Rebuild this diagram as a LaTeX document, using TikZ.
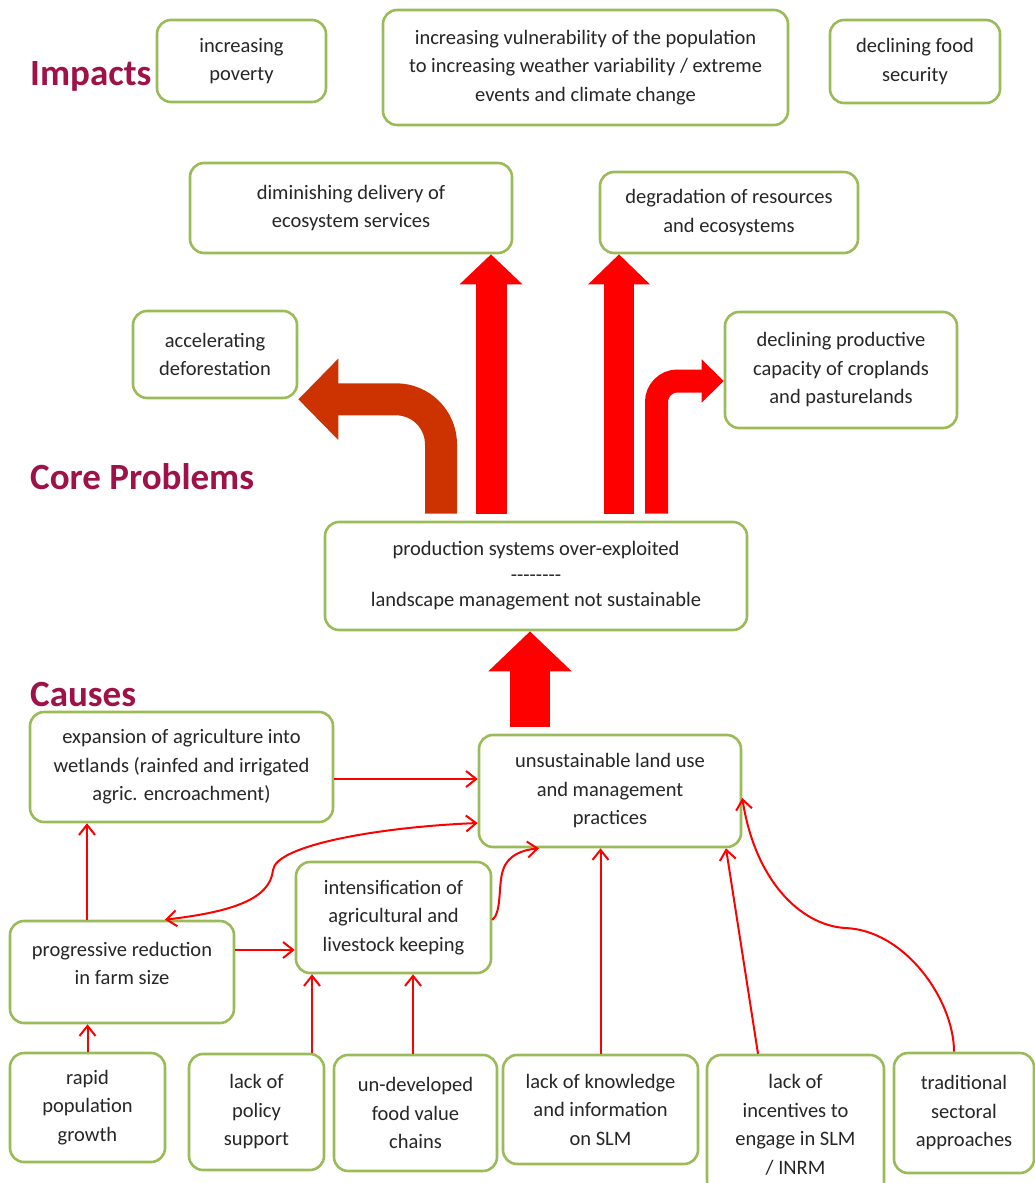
\documentclass[tikz,border=0pt]{standalone}
\usepackage{fontspec}
\setmainfont{Carlito}
\usetikzlibrary{arrows.meta}
\definecolor{olivegreen}{HTML}{9BBB59}
\definecolor{claret}{HTML}{9E1149}
\definecolor{rust}{HTML}{CC3300}
\definecolor{inkgray}{HTML}{262626}

\begin{document}
\begin{tikzpicture}[x=1pt, y=-1pt,
    box/.style={draw=olivegreen, line width=2.6pt, rounded corners=14pt, fill=white,
        align=center, inner sep=0pt, text=inkgray, font=\fontsize{20.5}{28.5}\selectfont},
    heading/.style={anchor=base west, inner sep=0pt, claret, font=\fontsize{37}{40}\selectfont\bfseries},
    link/.style={red, line width=2pt, >={Straight Barb[length=10pt,width=16pt]}, ->}
]
    \useasboundingbox (0,0) rectangle (1034,1183);

    % Headings
    \node[heading] (impacts) at (30,85) {Impacts};
    \node[heading] (coreprob) at (30,489) {Core Problems};
    \node[heading] (causes) at (30,706) {Causes};

    % Impacts
    \node[box, minimum width=169pt, minimum height=82pt] (poverty) at (241.5,61) {increasing\\poverty};
    \node[box, minimum width=405pt, minimum height=115pt] (vuln) at (585.5,67.5) {increasing vulnerability of the population\\to increasing weather variability / extreme\\events and climate change};
    \node[box, minimum width=170pt, minimum height=83pt] (foodsec) at (915,61.5) {declining food\\security};

    % Effects of the core problem
    \node[box, minimum width=322pt, minimum height=90pt] (dimin) at (351,208) {diminishing delivery of\\ecosystem services};
    \node[box, minimum width=258pt, minimum height=81pt] (degrad) at (729,212.5) {degradation of resources\\and ecosystems};
    \node[box, minimum width=164pt, minimum height=87pt] (defor) at (215,354.5) {accelerating\\deforestation};
    \node[box, minimum width=232pt, minimum height=116pt] (prodcap) at (841,370) {declining productive\\capacity of croplands\\and pasturelands};

    % Core problem
    \node[box, minimum width=422pt, minimum height=108pt] (core) at (536,576) {production systems over-exploited\\[-3pt]-{}-{}-{}-{}-{}-{}-{}-\\[-3pt]landscape management not sustainable};

    % Causes
    \node[box, minimum width=303pt, minimum height=110pt] (expansion) at (181.5,767) {expansion of agriculture into\\wetlands (rainfed and irrigated\\agric. encroachment)};
    \node[box, minimum width=262pt, minimum height=112pt] (unsust) at (610,791) {unsustainable land use\\and management\\practices};
    \node[box, minimum width=195pt, minimum height=111pt] (intens) at (393.5,917.5) {intensification of\\agricultural and\\livestock keeping};
    \node[box, minimum width=224pt, minimum height=102pt] (farmsize) at (122,972) {progressive reduction\\in farm size\\[-11pt]\mbox{}};

    % Root causes
    \node[box, minimum width=155pt, minimum height=109pt] (popgrowth) at (87.5,1107.5) {rapid\\population\\growth};
    \node[box, minimum width=135pt, minimum height=116pt] (policy) at (256.5,1112) {lack of\\policy\\support};
    \node[box, minimum width=163pt, minimum height=116pt] (valuechain) at (415.5,1113) {un-developed\\food value\\chains};
    \node[box, minimum width=195pt, minimum height=109pt] (knowledge) at (600.5,1109.5) {lack of knowledge\\and information\\on SLM};
    \node[box, minimum width=177pt, minimum height=140pt] (incentives) at (795.5,1125) {lack of\\incentives to\\engage in SLM\\/ INRM};
    \node[box, minimum width=140pt, minimum height=120pt] (traditional) at (964,1113) {traditional\\sectoral\\approaches};

    % Big arrows out of the core problem
    \coordinate (coretop) at ([yshift=7pt]core.north);
    \coordinate (unsusttop) at ([yshift=7pt]unsust.north);
    \draw[red, line width=31pt, -{Triangle[length=30pt,width=61pt]}] (coretop -| 491,0) -- (dimin.south -| 491,0);
    \draw[red, line width=30pt, -{Triangle[length=30pt,width=60pt]}] (coretop -| 619,0) -- (degrad.south -| 619,0);
    \draw[rust, line width=32pt, rounded corners=45pt, -{Triangle[length=40pt,width=79pt]}] (coretop -| 441,0) |- (defor.south east);
    \draw[red, line width=23pt, rounded corners=21pt, -{Triangle[length=22pt,width=42pt]}] (coretop -| 656.5,0) |- ([yshift=-11pt]prodcap.west);
    \draw[red, line width=40pt, -{Triangle[length=40pt,width=81pt]}] (unsusttop -| 530,0) -- (core.south -| 530,0);

    % Links between causes
    \draw[link] (expansion.east |- 0,779) -- (unsust.west |- 0,779);
    \draw[link] (farmsize.north -| 87,0) -- (expansion.south -| 87,0);
    \draw[link] (farmsize.east |- 0,950) -- (intens.west |- 0,950);
    \draw[link] (popgrowth.north) -- (farmsize.south -| popgrowth.north);
    \foreach \src/\x in {policy/312, valuechain/413}
        \draw[link] (\src.north -| \x,0) -- (intens.south -| \x,0);
    \draw[link] (knowledge.north) -- (unsust.south -| knowledge.north);
    \draw[link] (incentives.north -| 758,0) -- (unsust.south -| 726,0);
    \draw[link, <->] (farmsize.north -| 165,0) .. controls (230,912) and (270,900) .. (273,870)
        .. controls (276,845) and (380,827) .. (unsust.west |- 0,823);
    \draw[link] (intens.east |- 0,920) .. controls (502,912) and (498,885) .. (503,870)
        .. controls (508,855) and (522,850) .. (unsust.south -| 539,0);
    \draw[link] (traditional.north -| 954,0) .. controls (954,1000) and (905,930) .. (845,928)
        .. controls (800,925) and (755,880) .. (unsust.east |- 0,798);
\end{tikzpicture}
\end{document}
